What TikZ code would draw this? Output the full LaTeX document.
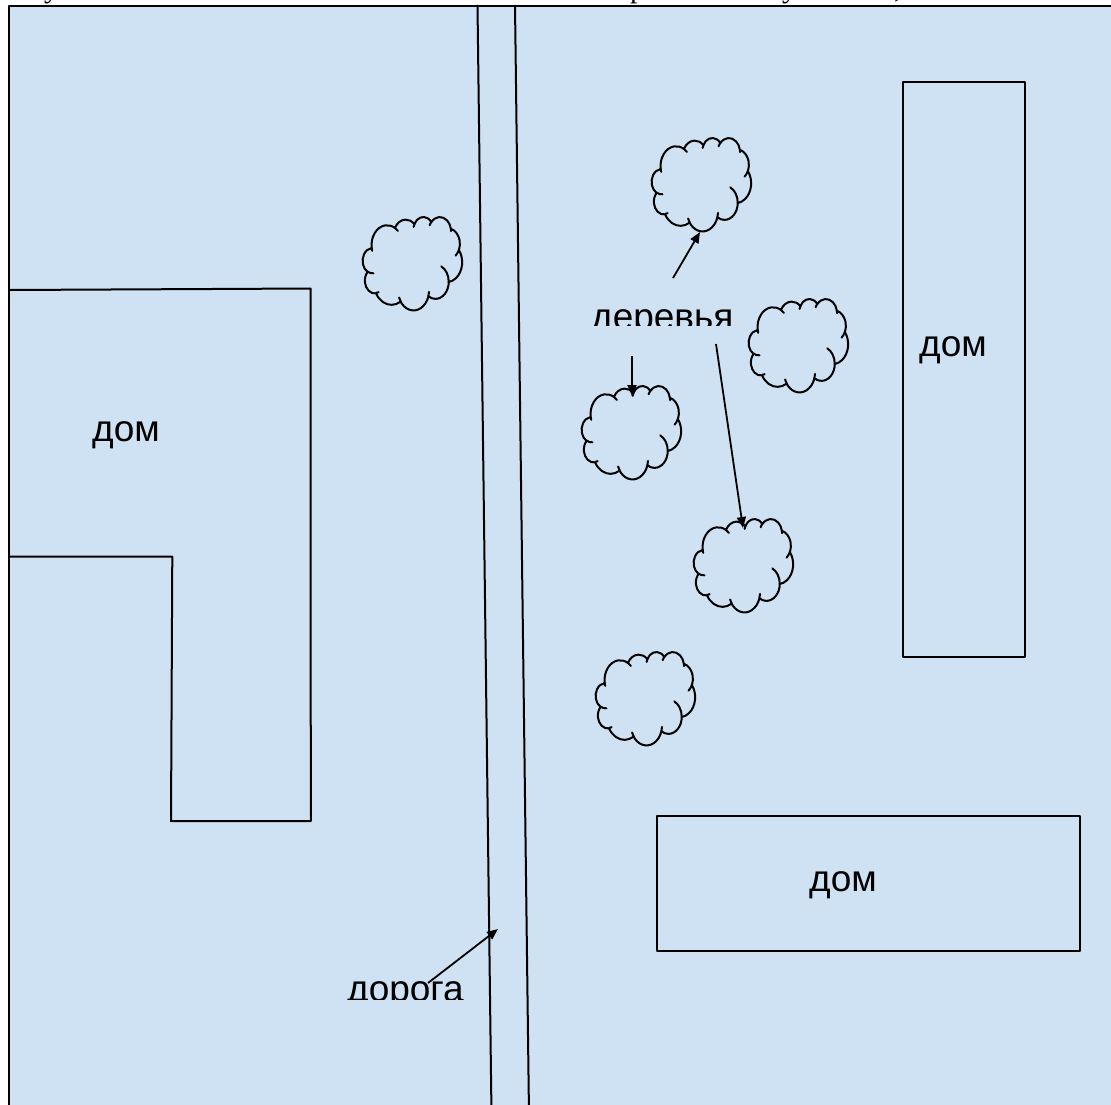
\documentclass[tikz,border=0pt]{standalone}
\usepackage{fontspec}
\setmainfont{Liberation Sans}
\newfontfamily\serifdoc{Liberation Serif}
\usetikzlibrary{arrows.meta}
\definecolor{bgblue}{HTML}{CFE2F3}

% visual (OOXML) angle -> parametric angle for an elliptic arc
\newcommand\cldcalc[5]{%
  \pgfmathsetmacro\cldtmpa{atan2((#2)*sin(#4),(#3)*cos(#4))}%
  \pgfmathsetmacro\cldtmpb{atan2((#2)*sin((#4)+(#5)),(#3)*cos((#4)+(#5)))}%
  \pgfmathsetmacro\cldtmpd{mod(\cldtmpb-\cldtmpa+720,360)}%
  \expandafter\xdef\csname cldS#1\endcsname{\cldtmpa}%
  \expandafter\xdef\csname cldD#1\endcsname{\cldtmpd}%
}
% outline arcs
\cldcalc{a}{6.753}{9.190}{-190.48748}{123.78053}
\cldcalc{b}{5.333}{7.267}{-144.10238}{89.94523}
\cldcalc{c}{4.365}{5.945}{-145.80792}{99.72302}
\cldcalc{d}{4.857}{6.595}{-130.98607}{117.24173}
\cldcalc{e}{5.333}{7.273}{-78.70888}{109.02692}
\cldcalc{f}{6.775}{9.220}{-46.26725}{130.26900}
\cldcalc{g}{5.785}{7.867}{0.62502}{114.03333}
\cldcalc{h}{6.752}{9.215}{22.45160}{115.17255}
\cldcalc{i}{7.720}{10.543}{66.24263}{75.71102}
\cldcalc{j}{4.360}{5.918}{-274.94208}{146.73557}
\cldcalc{k}{4.345}{5.945}{-246.82850}{152.51885}
% inner arcs
\cldcalc{A}{4.345}{5.945}{86.74200}{26.42950}
\cldcalc{B}{4.360}{5.918}{73.61047}{11.44747}
\cldcalc{C}{6.752}{9.215}{137.62415}{14.08110}
\cldcalc{D}{6.752}{9.215}{6.45327}{15.99835}
\cldcalc{E}{5.785}{7.867}{-70.29235}{70.91737}
\cldcalc{F}{5.333}{7.273}{30.31803}{27.75150}
\cldcalc{G}{4.857}{6.595}{-13.74433}{14.85890}
\cldcalc{H}{4.857}{6.595}{-149.18145}{18.19537}
\cldcalc{I}{4.365}{5.945}{-163.49427}{17.68635}
\cldcalc{J}{6.753}{9.190}{-66.70695}{12.31935}
\cldcalc{K}{6.753}{9.190}{157.65435}{11.85817}

\newcommand\carc[3]{arc[start angle=\csname cldS#1\endcsname, delta angle=\csname cldD#1\endcsname, x radius=#2, y radius=#3]}

\tikzset{
  ink/.style={line width=2pt, line cap=round, line join=round},
  lbl/.style={inner sep=0pt, anchor=base west, font=\fontsize{37}{40}\selectfont},
  frag/.style={inner sep=0pt, anchor=base west, font=\serifdoc\fontsize{30}{32}\selectfont},
  ptr/.style={line width=1.8pt, -{Triangle[length=11pt,width=9pt]}},
  cloudpic/.pic={
    \draw[ink] (3.900,14.370)
      \carc{a}{6.753}{9.190} \carc{b}{5.333}{7.267} \carc{c}{4.365}{5.945}
      \carc{d}{4.857}{6.595} \carc{e}{5.333}{7.273} \carc{f}{6.775}{9.220}
      \carc{g}{5.785}{7.867} \carc{h}{6.752}{9.215} \carc{i}{7.720}{10.543}
      \carc{j}{4.360}{5.918} \carc{k}{4.345}{5.945} -- cycle;
    \draw[ink]
      (4.693,26.177) \carc{A}{4.345}{5.945}
      (6.928,34.899) \carc{B}{4.360}{5.918}
      (16.478,39.090) \carc{C}{6.752}{9.215}
      (28.827,34.751) \carc{D}{6.752}{9.215}
      (34.129,22.954) \carc{E}{5.785}{7.867}
      (41.798,15.354) \carc{F}{5.333}{7.273}
      (38.324,5.426) \carc{G}{4.857}{6.595}
      (29.078,3.952) \carc{H}{4.857}{6.595}
      (22.141,4.720) \carc{I}{4.365}{5.945}
      (14.000,5.192) \carc{J}{6.753}{9.190}
      (4.127,15.789) \carc{K}{6.753}{9.190};
  },
  cloudsz/.style={xscale=2.301, yscale=2.162}
}

\begin{document}
\begin{tikzpicture}[x=1pt, y=-1pt]
\useasboundingbox (0,0) rectangle (1111,1104);

% area
\draw[ink, fill=bgblue] (9,5.5) rectangle (1125,1120);

% fragments of the line of text above
\node[frag] (f1) at (44,-3) {у};
\node[frag] (f2) at (630,-3) {р};
\node[frag] (f3) at (782,-3) {у};
\node[frag] (f4) at (894,-3) {,};

% road
\draw[ink] (477.5,5.5) -- (491.5,1115);
\draw[ink] (515,5.5) -- (529,1115);

% left house
\draw[ink] (9,290) -- (310.5,288.5) -- (310.8,821) -- (171,821) -- (172.3,556.7) -- (9,556.7);
\node[lbl] (h1) at (92,441) {дом};

% right houses
\draw[ink] (903,82) rectangle (1025,657);
\node[lbl] (h2) at (919,356) {дом};
\draw[ink] (657,815.5) rectangle (1080,950.5);
\node[lbl] (h3) at (809,891.5) {дом};

% trees
\pic[cloudsz] (c1) at (362.7,216.7) {cloudpic};
\pic[cloudsz] (c2) at (651.7,137.7) {cloudpic};
\pic[cloudsz] (c3) at (748.7,298.7) {cloudpic};
\pic[cloudsz] (c4) at (581.7,385.7) {cloudpic};
\pic[cloudsz] (c5) at (693.7,518.7) {cloudpic};
\pic[cloudsz] (c6) at (595.7,651.7) {cloudpic};

% labels (cut at the bottom)
\begin{scope}
  \clip (560,290) rectangle (760,325);
  \node[lbl] (trees) at (591,329) {деревья};
\end{scope}
\begin{scope}
  \clip (320,960) rectangle (480,999);
  \node[lbl] (road) at (347,1001) {дорога};
\end{scope}

% pointers
\coordinate (t1s) at (673,278);
\coordinate (t1e) at (700,232);
\coordinate (t2s) at (632,356);
\coordinate (t2e) at (632,396);
\coordinate (t3s) at (716,344);
\coordinate (t3e) at (743,528);
\coordinate (rds) at (428,983);
\coordinate (rde) at (498,929);
\draw[ptr] (t1s) -- (t1e);
\draw[ptr] (t2s) -- (t2e);
\draw[ptr] (t3s) -- (t3e);
\draw[ptr] (rds) -- (rde);
\end{tikzpicture}
\end{document}
